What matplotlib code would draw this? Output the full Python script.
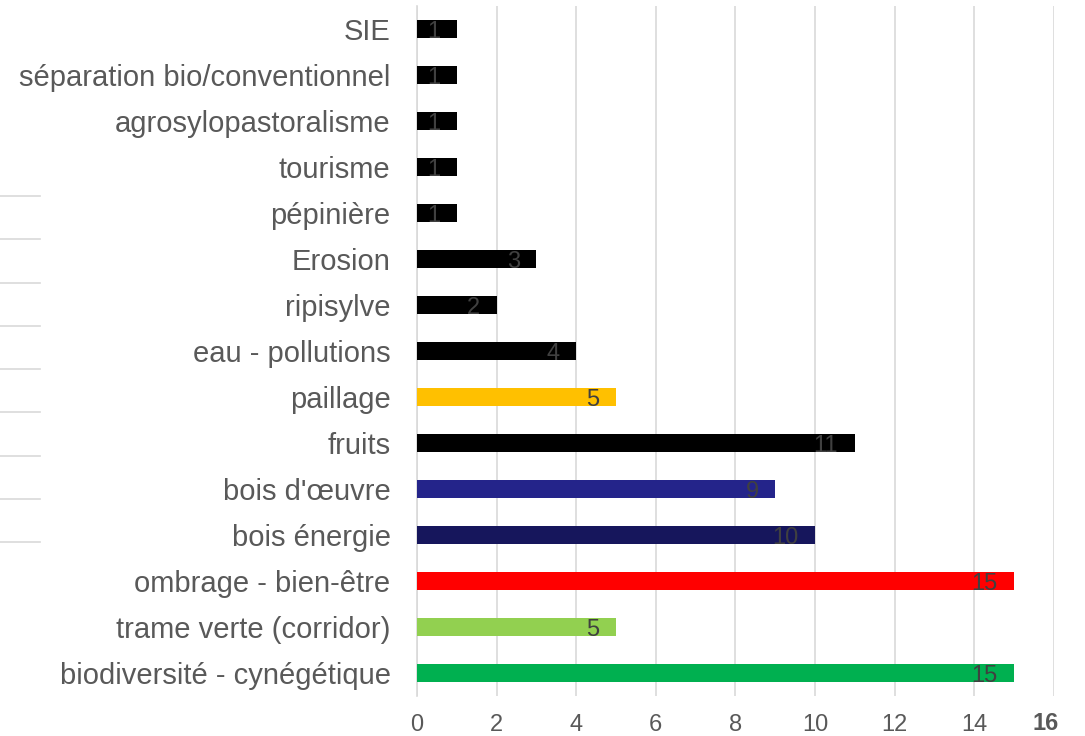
import matplotlib
matplotlib.use("Agg")
import matplotlib.pyplot as plt
from matplotlib.lines import Line2D

categories = ["biodiversité - cynégétique", "trame verte (corridor)", "ombrage - bien-être",
              "bois énergie", "bois d'œuvre", "fruits", "paillage", "eau - pollutions",
              "ripisylve", "Erosion", "pépinière", "tourisme", "agrosylopastoralisme",
              "séparation bio/conventionnel", "SIE"]
values = [15, 5, 15, 10, 9, 11, 5, 4, 2, 3, 1, 1, 1, 1, 1]
colors = ["#00B050", "#92D050", "#FF0000", "#16165C", "#24248A", "#000000", "#FFC000",
          "#000000", "#000000", "#000000", "#000000", "#000000", "#000000", "#000000", "#000000"]
xticks = [0, 2, 4, 6, 8, 10, 12, 14, 16]
xticklabels = ["0", "2", "4", "6", "8", "10", "12", "14", ""]

plt.rcParams['font.family'] = ['Liberation Sans', 'DejaVu Sans']

fig = plt.figure(figsize=(10.85, 7.36), dpi=100)
ax = fig.add_axes([417/1085, 1-696/736, (1054-417)/1085, (696-6)/736])

y = list(range(len(categories)))
ax.barh(y, values, height=0.37, color=colors, zorder=3)
for yi, v in zip(y, values):
    ax.text(v - 0.42, yi - 0.06, str(v), ha='right', va='center', fontsize=17,
            color='#404040', zorder=4)

ax.set_xlim(0, 16)
ax.set_ylim(-0.5, 14.5)
ax.set_xticks(xticks)
ax.set_xticklabels(xticklabels, fontsize=17, color='#595959')
ax.set_yticks(y)
ax.set_yticklabels(categories, fontsize=21, color='#595959')
ax.tick_params(axis='both', length=0)
ax.tick_params(axis='x', pad=13)
ax.tick_params(axis='y', pad=19)
ax.grid(axis='x', color='#D9D9D9', linewidth=1.2, zorder=0)
for s in ['top', 'right', 'bottom']:
    ax.spines[s].set_visible(False)
ax.spines['left'].set_color('#D9D9D9')
ax.spines['left'].set_linewidth(1.2)

# overlapped "16" tick label as in the reference
fig.text(1046/1085, 1-723/736, "16", fontsize=17, color='#595959', fontweight='bold',
         ha='center', va='center')

# short grey lines at left edge
for py in [196, 239, 283, 326, 369, 412, 456, 499, 542]:
    fig.add_artist(Line2D([0, 40/1085], [1-py/736, 1-py/736], color='#D9D9D9', linewidth=1.2))

fig.savefig("out.png", dpi=100)
